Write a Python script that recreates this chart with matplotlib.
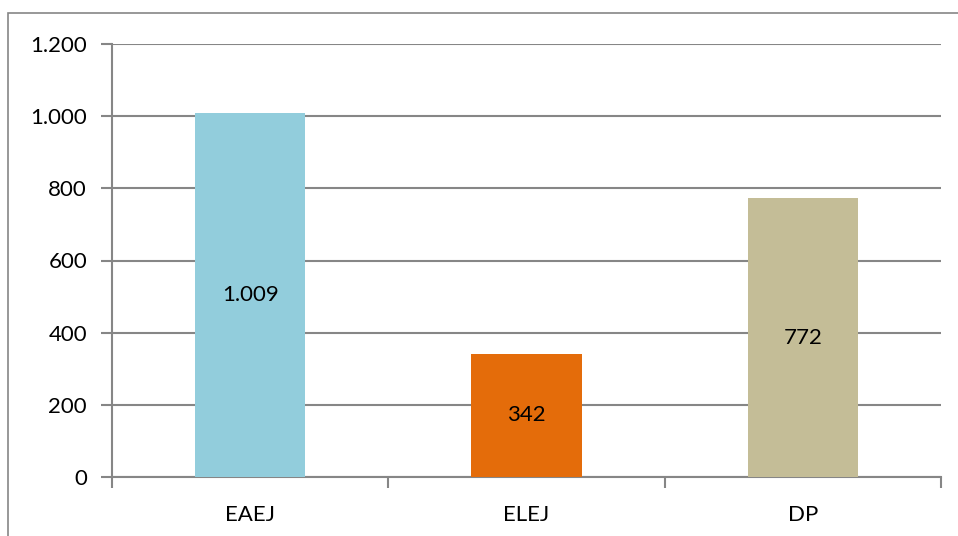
import numpy as np
import matplotlib
matplotlib.use('Agg')
import matplotlib.pyplot as plt
from matplotlib.patches import Rectangle
from matplotlib.ticker import FuncFormatter

plt.rcParams['font.family'] = ['Lato', 'DejaVu Sans']

categorias = ['EAEJ', 'ELEJ', 'DP']
valores = [1009, 342, 772]
colores = ['#92CDDC', '#E46C0A', '#C4BD97']
gris = '#868686'

def miles(v, pos=None):
    return f'{int(v):,}'.replace(',', '.')

fig = plt.figure(figsize=(9.58, 5.36), dpi=100)
ax = fig.add_axes([112/958, 59/536, 829/958, 433/536])

x = np.arange(len(categorias))
barras = ax.bar(x, valores, width=0.4, color=colores, zorder=3)

# etiquetas en el centro de cada barra
for xi, v in zip(x, valores):
    ax.text(xi, v/2, miles(v), ha='center', va='center', fontsize=16, color='black', zorder=4)

ax.set_xlim(-0.5, 2.5)
ax.set_ylim(0, 1200)
ax.set_yticks(np.arange(0, 1201, 200))
ax.yaxis.set_major_formatter(FuncFormatter(miles))
ax.yaxis.grid(True, color=gris, linewidth=1.5, zorder=0)

ax.set_xticks(x)
ax.set_xticklabels(categorias)
ax.set_xticks([-0.5, 0.5, 1.5, 2.5], minor=True)
ax.tick_params(axis='x', which='major', length=0, pad=20, labelsize=16)
ax.tick_params(axis='x', which='minor', length=8, width=1.5, color=gris, direction='out')
ax.tick_params(axis='y', length=8, width=1.5, color=gris, labelsize=16, pad=10)

for lado in ['top', 'right']:
    ax.spines[lado].set_visible(False)
for lado in ['left', 'bottom']:
    ax.spines[lado].set_color(gris)
    ax.spines[lado].set_linewidth(1.5)

# borde del gráfico
fig.patches.append(Rectangle((8/958, -0.1), 1.1, (536-13)/536 + 0.1, transform=fig.transFigure,
                             fill=False, edgecolor=gris, linewidth=1.2))

fig.savefig('out.png', dpi=100)
